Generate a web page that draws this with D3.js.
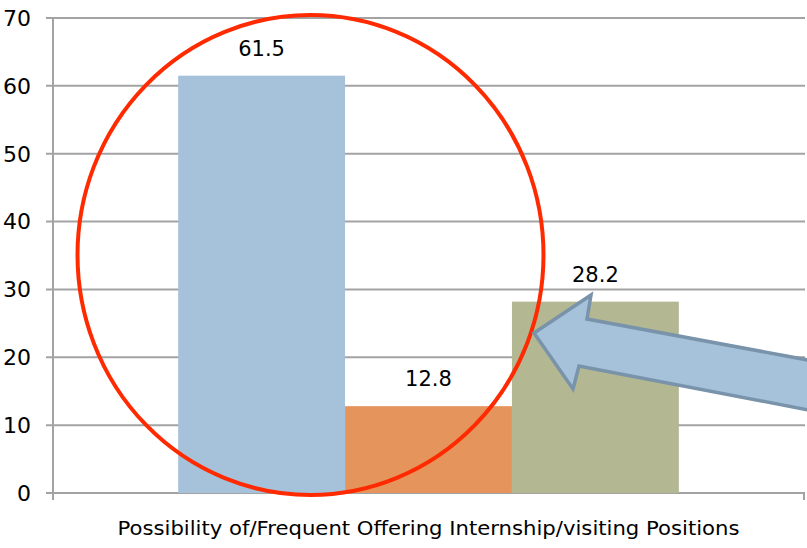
<!DOCTYPE html>
<html>
<head>
<meta charset="utf-8">
<script src="https://cdn.jsdelivr.net/npm/d3@7"></script>
<style>
  html, body { margin: 0; padding: 0; background: #fff; }
  svg { display: block; }
</style>
</head>
<body>
<svg id="chart" width="807" height="548"></svg>
<script>
const categories = ["Possibility of/Frequent Offering Internship/visiting Positions"];
const seriesNames = ["Series A", "Series B", "Series C"];
const seriesValues = [61.5, 12.8, 28.2];
const seriesColors = ["#a6c2db", "#e5955c", "#b3b792"];
const yTicks = [0, 10, 20, 30, 40, 50, 60, 70];

(function () {
const mLeft = 53, mRight = 804, mTop = 18, mBottom = 493;
const svg = d3.select("#chart");
const font = "DejaVu Sans, sans-serif";
const grid = "#a3a3a3";

const y = d3.scaleLinear().domain([0, 70]).range([mBottom, mTop]);
const x0 = d3.scaleBand().domain(categories).range([mLeft, mRight]).padding(0);
const bw = x0.bandwidth();
const x1 = d3.scaleBand().domain(seriesNames).range([bw / 6, bw * 5 / 6]).padding(0);

// gridlines
svg.append("g").selectAll("line").data(yTicks).join("line")
  .attr("x1", mLeft - 7).attr("x2", mRight + 1)
  .attr("y1", d => y(d)).attr("y2", d => y(d))
  .attr("stroke", grid).attr("stroke-width", 2);

// y axis line
svg.append("line").attr("x1", mLeft).attr("x2", mLeft)
  .attr("y1", mTop).attr("y2", mBottom + 7)
  .attr("stroke", grid).attr("stroke-width", 2);
// right tick of x axis
svg.append("line").attr("x1", mRight).attr("x2", mRight)
  .attr("y1", mBottom).attr("y2", mBottom + 7)
  .attr("stroke", grid).attr("stroke-width", 2);

// y labels
svg.append("g").selectAll("text").data(yTicks).join("text")
  .attr("x", 31).attr("y", d => y(d))
  .attr("dy", "0.36em")
  .attr("text-anchor", "end")
  .attr("font-family", font).attr("font-size", 22)
  .attr("fill", "#000")
  .text(d => d);

// bars
const data = seriesNames.map((s, i) => ({ s, v: seriesValues[i], c: seriesColors[i] }));
const g = svg.append("g").attr("transform", `translate(${x0(categories[0])},0)`);
g.selectAll("rect").data(data).join("rect")
  .attr("x", d => x1(d.s)).attr("width", x1.bandwidth())
  .attr("y", d => y(d.v)).attr("height", d => y(0) - y(d.v))
  .attr("fill", d => d.c);
g.selectAll("text.v").data(data).join("text")
  .attr("class", "v")
  .attr("x", d => x1(d.s) + x1.bandwidth() / 2)
  .attr("y", d => y(d.v) - 20)
  .attr("text-anchor", "middle")
  .attr("font-family", font).attr("font-size", 21)
  .attr("fill", "#000")
  .text(d => d.v);

// category label
svg.append("text")
  .attr("x", x0(categories[0]) + bw / 2).attr("y", 535)
  .attr("text-anchor", "middle")
  .attr("font-family", font).attr("font-size", 20)
  .attr("textLength", 622).attr("lengthAdjust", "spacingAndGlyphs")
  .attr("fill", "#000")
  .text(categories[0]);

// red circle annotation
svg.append("ellipse")
  .attr("cx", 310.5).attr("cy", 255).attr("rx", 233).attr("ry", 240)
  .attr("fill", "none").attr("stroke", "#ff2a00").attr("stroke-width", 4);

// arrow annotation
const arrow = [[534, 333], [591, 295], [587, 319], [840, 366], [840, 416], [579, 366], [573, 389]];
svg.append("path")
  .attr("d", d3.line()(arrow) + "Z")
  .attr("fill", "#a6c2db").attr("stroke", "#7893aa").attr("stroke-width", 3.5)
  .attr("stroke-linejoin", "miter");
})();
</script>
</body>
</html>
